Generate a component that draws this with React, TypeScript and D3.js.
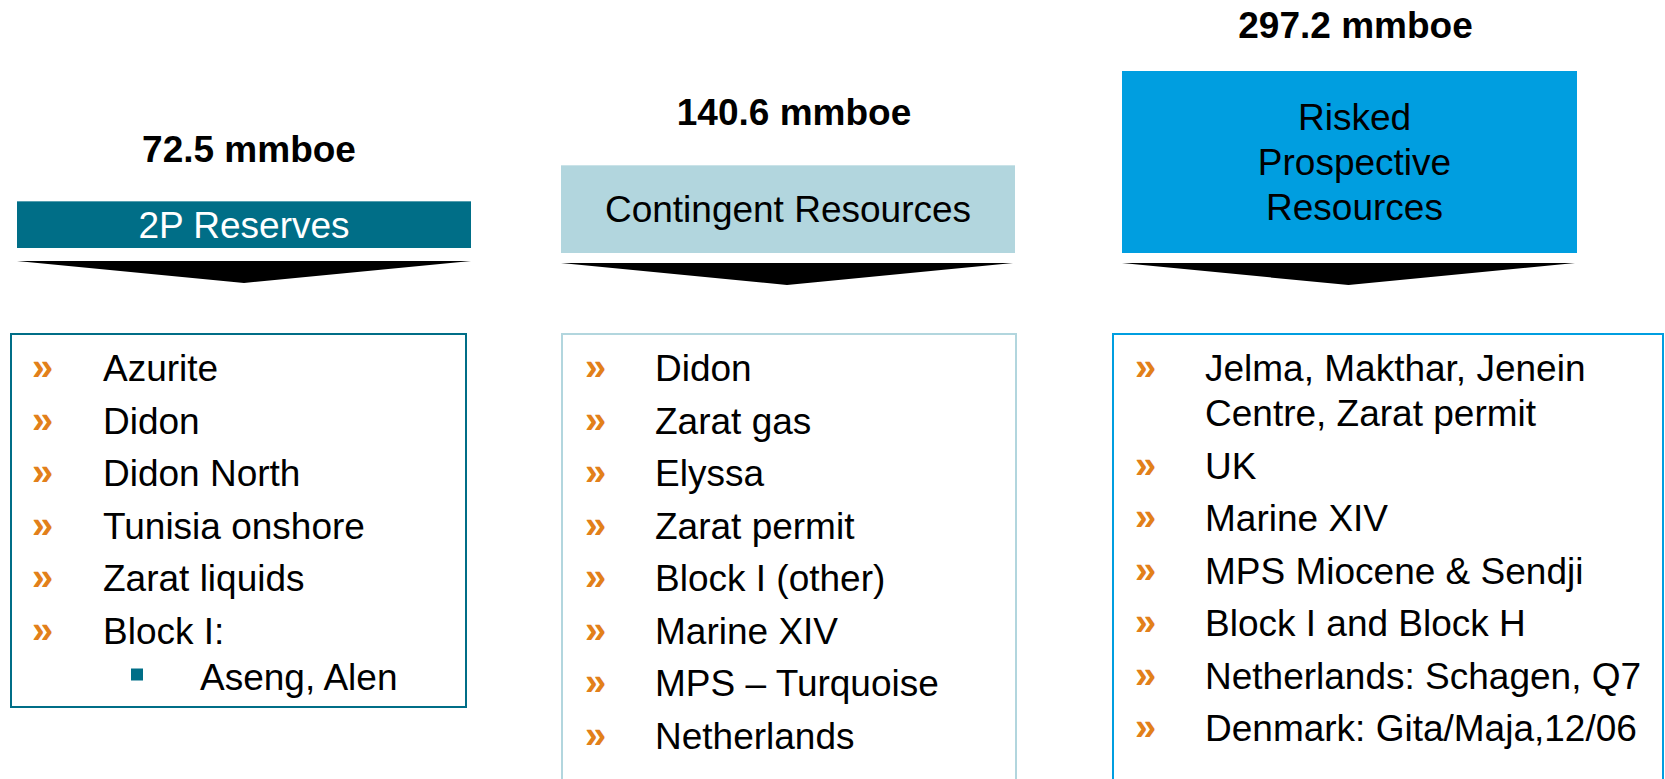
import React from "react";
import * as d3 from "d3";

// ---------- data ----------
const categories = ["2P Reserves", "Contingent Resources", "Risked Prospective Resources"];
const categoryLines = [["2P Reserves"], ["Contingent Resources"], ["Risked", "Prospective", "Resources"]];
const volumes = [72.5, 140.6, 297.2];
const volumeUnit = "mmboe";

const reservesItems = [
  ["Azurite"],
  ["Didon"],
  ["Didon North"],
  ["Tunisia onshore"],
  ["Zarat liquids"],
  ["Block I:"],
];
const reservesSubItems = [[], [], [], [], [], ["Aseng, Alen"]];

const contingentItems = [
  ["Didon"],
  ["Zarat gas"],
  ["Elyssa"],
  ["Zarat permit"],
  ["Block I (other)"],
  ["Marine XIV"],
  ["MPS \u2013 Turquoise"],
  ["Netherlands"],
];
const contingentSubItems = contingentItems.map(() => [] as string[]);

const prospectiveItems = [
  ["Jelma, Makthar, Jenein", "Centre, Zarat permit"],
  ["UK"],
  ["Marine XIV"],
  ["MPS Miocene & Sendji"],
  ["Block I and Block H"],
  ["Netherlands: Schagen, Q7"],
  ["Denmark: Gita/Maja,12/06"],
];
const prospectiveSubItems = prospectiveItems.map(() => [] as string[]);

const columnItems = [reservesItems, contingentItems, prospectiveItems];
const columnSubItems = [reservesSubItems, contingentSubItems, prospectiveSubItems];

// ---------- styles / layout ----------
const W = 1665;
const H = 779;
const FONT = "'Liberation Sans', Arial, sans-serif";
const headerFill = ["#006E87", "#B2D6DE", "#009EE0"];
const headerText = ["#FFFFFF", "#000000", "#000000"];
const ORANGE = "#E2801A";

const headerX0 = [17, 561, 1122];
const headerX1 = [471, 1015, 1577];
const headerBottom = [248, 253, 253];
const headerTextDx = [0, 0, 5];
const titleDx = [5, 6, 6];
const titleGap = [39, 40, 33];
const arrowTop = [261, 263, 263];
const arrowRightInset = [0, 2, 2];
const arrowDepth = 22;

const listX0 = [11, 562, 1113];
const listX1 = [466, 1016, 1663];
const listTop = 334;
const listBottom = [707, 900, 900];
const bulletDx = [21, 23, 22];
const textDx = [92, 93, 92];

const FS = 37;
const firstBaseline = 381;
const itemStep = 52.5;
const wrapStep = 45;
const subStep = 46;

export default function App() {
  const h = d3
    .scaleLinear()
    .domain([0, d3.max(volumes) as number])
    .range([3, 182]);

  const arrowLine = d3.line();

  return (
    <div style={{ position: "fixed", left: 0, top: 0, width: W, height: H, background: "#fff" }}>
      <svg width={W} height={H} style={{ display: "block" }} fontFamily={FONT}>
        {categories.map((cat, i) => {
          const x0 = headerX0[i];
          const x1 = headerX1[i];
          const bottom = headerBottom[i];
          const top = bottom - h(volumes[i]);
          const cx = (x0 + x1) / 2;
          const lines = categoryLines[i];
          const midY = (top + bottom) / 2;
          const lineH = 45;
          const firstBase = midY + 13 - ((lines.length - 1) * lineH) / 2;
          const aTop = arrowTop[i];
          const ax1 = x1 - arrowRightInset[i];
          const arrow =
            arrowLine([
              [x0, aTop],
              [ax1, aTop],
              [(x0 + ax1) / 2, aTop + arrowDepth],
            ]) + "Z";

          // list
          const items = columnItems[i];
          const subs = columnSubItems[i];
          const rows: React.ReactNode[] = [];
          let y = firstBaseline;
          items.forEach((lns, k) => {
            rows.push(
              <text
                key={`b${k}`}
                x={listX0[i] + bulletDx[i]}
                y={y - 1}
                fontSize={38}
                fontWeight="bold"
                fill={ORANGE}
              >
                {"\u00BB"}
              </text>
            );
            lns.forEach((ln, j) => {
              rows.push(
                <text key={`t${k}-${j}`} x={listX0[i] + textDx[i]} y={y + j * wrapStep} fontSize={FS} fill="#000">
                  {ln}
                </text>
              );
            });
            const lastY = y + (lns.length - 1) * wrapStep;
            subs[k].forEach((s, j) => {
              const sy = lastY + subStep * (j + 1);
              rows.push(
                <rect key={`sq${k}-${j}`} x={listX0[i] + 120} y={sy - 21} width={12} height={12} fill={headerFill[0]} />
              );
              rows.push(
                <text key={`s${k}-${j}`} x={listX0[i] + 189} y={sy} fontSize={FS} fill="#000">
                  {s}
                </text>
              );
            });
            y = lastY + itemStep + subs[k].length * subStep;
          });

          return (
            <g key={cat}>
              <text
                x={cx + titleDx[i]}
                y={top - titleGap[i]}
                fontSize={FS}
                fontWeight="bold"
                textAnchor="middle"
                fill="#000"
              >
                {`${volumes[i].toFixed(1)} ${volumeUnit}`}
              </text>
              <rect x={x0} y={top} width={x1 - x0} height={bottom - top} fill={headerFill[i]} />
              {lines.map((ln, j) => (
                <text
                  key={j}
                  x={cx + headerTextDx[i]}
                  y={firstBase + j * lineH}
                  fontSize={FS}
                  textAnchor="middle"
                  fill={headerText[i]}
                >
                  {ln}
                </text>
              ))}
              <path d={arrow} fill="#000" />
              <rect
                x={listX0[i]}
                y={listTop}
                width={listX1[i] - listX0[i]}
                height={listBottom[i] - listTop}
                fill="none"
                stroke={headerFill[i]}
                strokeWidth={2}
              />
              {rows}
            </g>
          );
        })}
      </svg>
    </div>
  );
}
